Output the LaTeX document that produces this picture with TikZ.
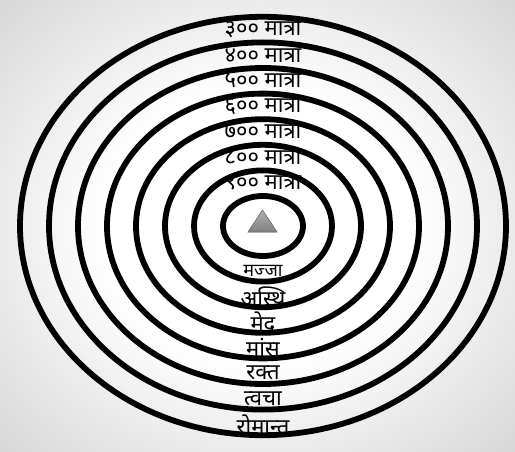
\documentclass[tikz,border=0pt]{standalone}
\usepackage{fontspec}
\newfontfamily\devfont[Script=Devanagari]{Noto Sans}
\usetikzlibrary{positioning}
\pgfdeclareradialshading{glow}{\pgfpoint{0bp}{0bp}}{color(0bp)=(white); color(15bp)=(white); color(25bp)=(black!8); color(36bp)=(black!16); color(50bp)=(black!16)}
\tikzset{ring/.style={line width=5.8pt},
  lbl/.style={font=\devfont\fontsize{22}{22}\selectfont, inner sep=0pt}}

\begin{document}
\begin{tikzpicture}[x=1pt,y=-1pt]
  \pgfmathsetmacro{\cx}{263}
  \pgfmathsetmacro{\cy}{226}
  % Background
  \shade[shading=glow] (0,0) rectangle (515,452);
  \useasboundingbox (0,0) rectangle (515,452);
  % Draw the eight rings
  \foreach \k in {0,...,7} {
    \pgfmathsetmacro{\rx}{40+29*\k}
    \pgfmathsetmacro{\ry}{30+25.6*\k}
    \draw[ring] (\cx,\cy) ellipse ({\rx pt} and {\ry pt}); }
  % Centre mark
  \coordinate (centre) at (\cx,\cy);
  \fill[top color=black!30, bottom color=black!50, draw=black!55, line width=0.6pt]
    (248,232) -- (262.5,210) -- (277,232) -- cycle;
  % Labels in the bands, above and below
  \foreach \txt [count=\i] in {३०० मात्रा, ४०० मात्रा, ५०० मात्रा, ६०० मात्रा, ७०० मात्रा, ८०० मात्रा, ९०० मात्रा} {
    \pgfmathsetmacro{\band}{30+25.6*(7.5-\i)}
    \node[lbl] (up\i) at (\cx, \cy-\band) {\txt}; }
  \node[lbl, font=\devfont\fontsize{18}{18}\selectfont] (down1) at (\cx, \cy+44.8) {मज्जा};
  \foreach \txt [count=\i from 2] in {अस्थि, मेद, मांस, रक्त, त्वचा, रोमान्त} {
    \pgfmathsetmacro{\band}{30+25.6*(\i-0.5)}
    \node[lbl] (down\i) at (\cx, \cy+\band+2) {\txt}; }
\end{tikzpicture}
\end{document}
